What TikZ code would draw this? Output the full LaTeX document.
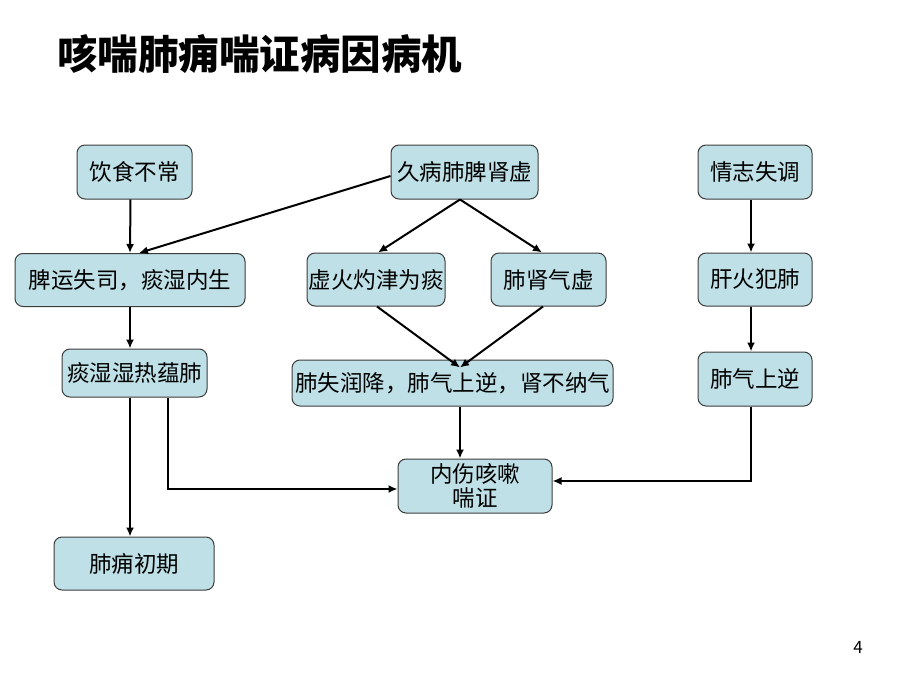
\documentclass[tikz,border=0pt]{standalone}
\usepackage{fontspec}
\setmainfont{Noto Sans CJK SC}
\usetikzlibrary{arrows.meta,calc}
\definecolor{boxfill}{RGB}{190,224,230}
\definecolor{boxline}{RGB}{60,60,60}
\begin{document}
\begin{tikzpicture}[x=1pt,y=-1pt,
  box/.style={draw=boxline,line width=1pt,fill=boxfill,rounded corners=8pt,inner sep=0pt,
    minimum height=54pt,font=\fontsize{22.5}{25}\selectfont,align=center},
  arr/.style={-{Latex[length=9pt,width=8pt]},line width=2pt,black}]
\useasboundingbox (0,0) rectangle (920,690);
\node[font=\fontsize{40.5}{44}\selectfont\bfseries,anchor=west,inner sep=0pt] (title) at (57,54) {咳喘肺痈喘证病因病机};
\node (n1) [box,minimum width=115pt] at (134.5,172) {饮食不常};
\node (n2) [box,minimum width=147pt] at (464.5,172) {久病肺脾肾虚};
\node (n3) [box,minimum width=114pt] at (755,172) {情志失调};
\node (n4) [box,minimum width=230pt,minimum height=53pt] at (130,280) {脾运失司，痰湿内生};
\node (n5) [box,minimum width=138pt,minimum height=53pt] at (376,279.5) {虚火灼津为痰};
\node (n6) [box,minimum width=115pt,minimum height=53pt] at (548.5,279.5) {肺肾气虚};
\node (n7) [box,minimum width=114pt,minimum height=53pt] at (755,279.5) {肝火犯肺};
\node (n8) [box,minimum width=145pt,minimum height=48pt] at (134.5,373) {痰湿湿热蕴肺};
\node (n9) [box,minimum width=321pt,minimum height=46pt] at (452.5,383) {肺失润降，肺气上逆，肾不纳气};
\node (n10) [box,minimum width=114pt,minimum height=54pt] at (755,379) {肺气上逆};
\node (n11) [box,minimum width=154pt,minimum height=54pt,font=\fontsize{22.5}{24}\selectfont] at (475,486) {内伤咳嗽\\喘证};
\node (n12) [box,minimum width=160pt,minimum height=53pt] at (134,563.5) {肺痈初期};
\node[font=\fontsize{17}{19}\selectfont] (pg) at (858,647) {4};
% connectors
\draw[arr] ([xshift=-4pt]n1.south) -- ([xshift=0pt]n4.north);
\draw[arr] ([yshift=-4pt]n2.west) -- ([xshift=9pt]n4.north);
\coordinate (split) at ([xshift=-4.5pt]n2.south);
\draw[arr] (split) -- ([xshift=2pt]n5.north);
\draw[arr] (split) -- ([xshift=-6.5pt]n6.north);
\coordinate (merge) at ($(n9.north)+(7.5pt,-8pt)$);
\draw[arr] ([xshift=1pt]n5.south) -- (merge);
\draw[arr] ([xshift=-5.5pt]n6.south) -- (merge);
\coordinate (c9s) at ([xshift=7.5pt]n9.south);
\draw[arr] (c9s) -- (n11.north -| c9s);
\draw[arr] (n4.south) -- (n8.north -| n4.south);
\coordinate (c8a) at ([xshift=-4.5pt]n8.south);
\draw[arr] (c8a) -- (n12.north -| c8a);
\draw[arr] ([xshift=33.5pt]n8.south) |- ([yshift=-3pt]n11.west);
\draw[arr] ([xshift=-4pt]n3.south) -- ([xshift=-4pt]n7.north);
\draw[arr] ([xshift=-4pt]n7.south) -- ([xshift=-4pt]n10.north);
\draw[arr] ([xshift=-4pt]n10.south) |- ([yshift=5pt]n11.east);
\end{tikzpicture}
\end{document}
